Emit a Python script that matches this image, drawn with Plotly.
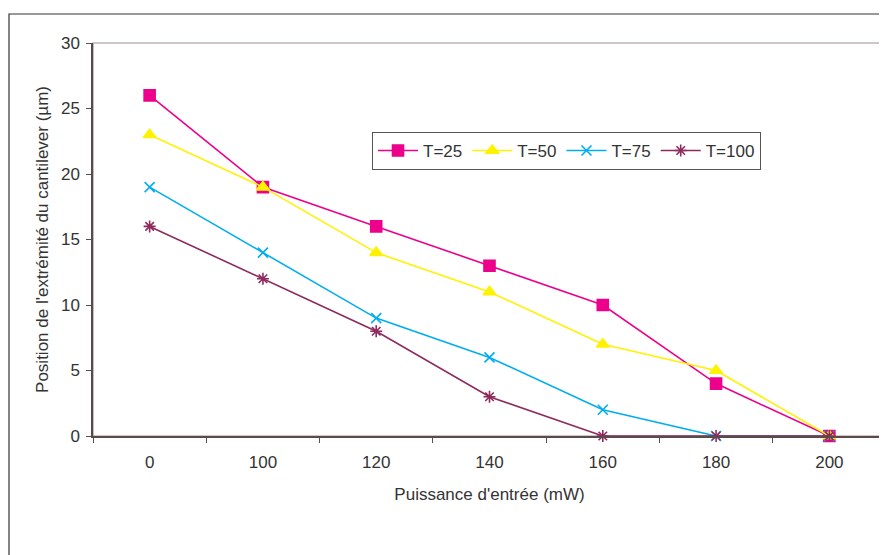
import plotly.graph_objects as go

categories = ["0", "100", "120", "140", "160", "180", "200"]
t25 = [26, 19, 16, 13, 10, 4, 0]
t50 = [23, 19, 14, 11, 7, 5, 0]
t75 = [19, 14, 9, 6, 2, 0, 0]
t100 = [16, 12, 8, 3, 0, 0, 0]
series_names = ["T=25", "T=50", "T=75", "T=100"]

colors = ["#EC008C", "#FFF200", "#00AEEF", "#8E2A5E"]
symbols = ["square", "triangle-up", "x-thin-open", "asterisk-open"]
sizes = [11, 11, 10, 10]

fig = go.Figure()
for name, vals, c, s, sz in zip(series_names, [t25, t50, t75, t100], colors, symbols, sizes):
    fig.add_trace(go.Scatter(
        x=categories, y=vals, name=name, mode="lines+markers",
        line=dict(color=c, width=1.6),
        marker=dict(symbol=s, size=sz, color=c, line=dict(color=c, width=1.6)),
        cliponaxis=False,
    ))

# page has an 8px body margin; compensate so the plot lands where the reference has it
OFF = 8
W, H = 887 - OFF, 555 - OFF
L, T, R = 93 - OFF, 43 - OFF, 1
B = H - (436 - OFF)
pw, ph = W - L - R, H - T - B

def px2x(p):
    return (p - OFF - L) / pw

def py2y(p):
    return (H - B - (p - OFF)) / ph

FS = 17
fig.update_layout(
    width=W, height=H,
    margin=dict(l=L, r=R, t=T, b=B),
    paper_bgcolor="white", plot_bgcolor="white",
    font=dict(family="Liberation Sans, Arial, sans-serif", size=FS, color="#333333"),
    showlegend=True,
    legend=dict(
        orientation="h", x=px2x(372), y=py2y(132), xanchor="left", yanchor="top",
        bordercolor="#555555", borderwidth=1, bgcolor="white",
        font=dict(size=FS), itemwidth=40, tracegroupgap=0,
    ),
    xaxis=dict(
        type="category", tickson="boundaries", ticks="outside", ticklen=5,
        tickcolor="#5a4a4a", showline=True, linecolor="#5a4a4a", linewidth=1.5,
        showgrid=False, zeroline=False, ticklabelstandoff=10,
        title=dict(text="Puissance d'entrée (mW)", standoff=17, font=dict(size=FS)),
        range=[-0.5, 6.5],
    ),
    yaxis=dict(
        range=[0, 30], dtick=5, ticks="outside", ticklen=5, tickcolor="#5a4a4a",
        showline=True, linecolor="#5a4a4a", linewidth=1.5,
        showgrid=False, zeroline=False, ticklabelstandoff=3,
        title=dict(text="Position de l'extrémité du cantilever (µm)", standoff=8, font=dict(size=FS)),
    ),
    shapes=[
        dict(type="rect", xref="paper", yref="paper", x0=0, x1=1, y0=0, y1=1,
             line=dict(color="#a09090", width=1.2), layer="below"),
        dict(type="rect", xref="paper", yref="paper",
             x0=px2x(9), x1=px2x(886), y0=py2y(14), y1=py2y(570),
             line=dict(color="#333333", width=1.2), layer="below"),
    ],
)

fig.write_html("out.html")
